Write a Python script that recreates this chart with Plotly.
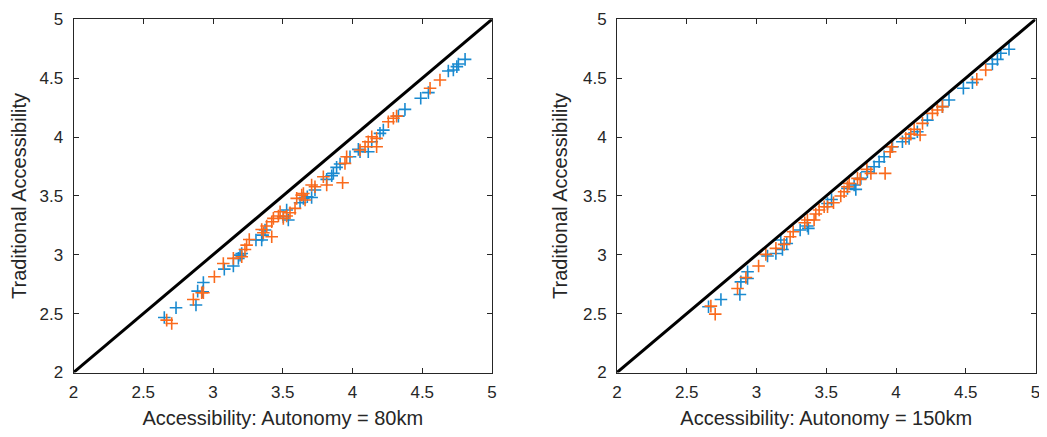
import plotly.graph_objects as go

# ---- data ----
# Panel 1: Autonomy = 80 km
p1_blue_x = [2.651, 2.735, 2.878, 2.890, 2.931, 2.926, 3.081, 3.146, 3.182, 3.194, 3.206,
             3.308, 3.349, 3.356, 3.373, 3.504, 3.528, 3.540, 3.624, 3.648, 3.676, 3.707,
             3.731, 3.815, 3.851, 3.863, 3.886, 3.911, 3.982, 4.042, 4.054, 4.113, 4.138,
             4.197, 4.221, 4.329, 4.376, 4.489, 4.544, 4.687, 4.723, 4.748, 4.759, 4.807]
p1_blue_y = [2.467, 2.550, 2.573, 2.691, 2.765, 2.686, 2.878, 2.904, 2.969, 2.997, 3.011,
             3.125, 3.125, 3.167, 3.210, 3.323, 3.380, 3.295, 3.442, 3.479, 3.493, 3.487,
             3.550, 3.640, 3.671, 3.691, 3.742, 3.771, 3.833, 3.895, 3.875, 3.875, 3.960,
             4.031, 4.059, 4.178, 4.235, 4.329, 4.377, 4.561, 4.569, 4.598, 4.620, 4.660]
p1_orange_x = [2.668, 2.704, 2.859, 2.919, 2.931, 3.010, 3.074, 3.146, 3.206, 3.229, 3.241,
               3.260, 3.349, 3.361, 3.385, 3.421, 3.421, 3.433, 3.469, 3.481, 3.504, 3.528,
               3.552, 3.588, 3.600, 3.636, 3.648, 3.660, 3.707, 3.731, 3.791, 3.815, 3.929,
               3.946, 3.958, 4.054, 4.090, 4.113, 4.138, 4.173, 4.173, 4.257, 4.293, 4.316,
               4.556, 4.627]
p1_orange_y = [2.445, 2.416, 2.620, 2.677, 2.677, 2.813, 2.926, 2.969, 2.983, 3.045, 3.082,
               3.130, 3.215, 3.187, 3.244, 3.280, 3.153, 3.309, 3.329, 3.365, 3.309, 3.329,
               3.357, 3.394, 3.479, 3.507, 3.521, 3.465, 3.592, 3.578, 3.663, 3.592, 3.612,
               3.776, 3.833, 3.890, 3.918, 3.960, 4.003, 3.989, 3.918, 4.130, 4.159, 4.178,
               4.414, 4.484]

# Panel 2: Autonomy = 150 km
p2_blue_x = [2.656, 2.745, 2.881, 2.888, 2.936, 2.936, 3.079, 3.139, 3.174, 3.186, 3.217,
             3.313, 3.365, 3.372, 3.509, 3.538, 3.652, 3.700, 3.712, 3.748, 3.795, 3.843,
             3.879, 3.915, 3.975, 4.046, 4.094, 4.153, 4.225, 4.333, 4.380, 4.483, 4.548,
             4.691, 4.727, 4.751, 4.810]
p2_blue_y = [2.558, 2.620, 2.663, 2.770, 2.856, 2.799, 2.989, 3.011, 3.125, 3.045, 3.096,
             3.210, 3.244, 3.224, 3.436, 3.470, 3.564, 3.592, 3.555, 3.649, 3.705, 3.748,
             3.790, 3.833, 3.918, 3.960, 3.989, 4.045, 4.144, 4.258, 4.314, 4.414, 4.462,
             4.620, 4.660, 4.711, 4.745]
p2_orange_x = [2.673, 2.704, 2.864, 2.924, 3.015, 3.067, 3.139, 3.198, 3.241, 3.263, 3.346,
               3.365, 3.413, 3.425, 3.449, 3.485, 3.509, 3.552, 3.604, 3.628, 3.652, 3.664,
               3.724, 3.743, 3.791, 3.820, 3.922, 3.958, 3.970, 4.070, 4.106, 4.130, 4.173,
               4.190, 4.261, 4.297, 4.333, 4.579, 4.643]
p2_orange_y = [2.564, 2.496, 2.714, 2.807, 2.904, 3.003, 3.054, 3.088, 3.153, 3.195, 3.272,
               3.295, 3.295, 3.346, 3.380, 3.408, 3.408, 3.442, 3.499, 3.535, 3.578, 3.606,
               3.649, 3.640, 3.725, 3.691, 3.691, 3.875, 3.918, 3.989, 4.025, 4.065, 4.017,
               4.116, 4.201, 4.229, 4.258, 4.490, 4.569]

axis_limits = [2, 5]
tick_vals = [2, 2.5, 3, 3.5, 4, 4.5, 5]
tick_text = ["2", "2.5", "3", "3.5", "4", "4.5", "5"]
x_titles = ["Accessibility: Autonomy = 80km", "Accessibility: Autonomy = 150km"]
y_title = "Traditional Accessibility"

BLUE = "#1A8AD0"
ORANGE = "#FA6A1C"
AXIS = "#262626"
FONT = "Liberation Sans, Arial, sans-serif"

fig = go.Figure()

panels = [
    (p1_blue_x, p1_blue_y, p1_orange_x, p1_orange_y, "x", "y"),
    (p2_blue_x, p2_blue_y, p2_orange_x, p2_orange_y, "x2", "y2"),
]

for bx, by, ox, oy, xa, ya in panels:
    fig.add_trace(go.Scatter(x=bx, y=by, mode="markers", xaxis=xa, yaxis=ya,
                             marker=dict(symbol="cross-thin", size=9,
                                         line=dict(color=BLUE, width=1.6)),
                             showlegend=False, hoverinfo="skip"))
    fig.add_trace(go.Scatter(x=ox, y=oy, mode="markers", xaxis=xa, yaxis=ya,
                             marker=dict(symbol="cross-thin", size=9,
                                         line=dict(color=ORANGE, width=1.6)),
                             showlegend=False, hoverinfo="skip"))
    fig.add_trace(go.Scatter(x=axis_limits, y=axis_limits, mode="lines", xaxis=xa, yaxis=ya,
                             line=dict(color="black", width=3),
                             showlegend=False, hoverinfo="skip", cliponaxis=False))

# The page body has an 8px margin; positions are shifted to compensate and the
# figure is sized so that the page does not overflow the window.
OFF = 8
W, H = 1047 - OFF, 437 - 2 * OFF
x_domains = [[(73.5 - OFF) / W, (492 - OFF) / W], [(617.0 - OFF) / W, (1035.5 - OFF) / W]]
y_domain = [(H - (372.5 - OFF)) / H, (H - (19.3 - OFF)) / H]

common = dict(range=axis_limits, tickvals=tick_vals, ticktext=tick_text, automargin=False,
              showgrid=False, zeroline=False, showline=True, linecolor=AXIS, linewidth=1,
              mirror="ticks", ticks="inside", ticklen=5, tickcolor=AXIS, tickwidth=1,
              ticklabeloverflow="allow",
              tickfont=dict(family=FONT, size=17, color=AXIS))

fig.update_layout(
    width=W, height=H,
    margin=dict(l=0, r=0, t=0, b=0),
    paper_bgcolor="white", plot_bgcolor="white",
    font=dict(family=FONT, color=AXIS),
    xaxis=dict(domain=x_domains[0], anchor="y", ticklabelstandoff=4,
               title=dict(text=x_titles[0], font=dict(family=FONT, size=20, color=AXIS), standoff=10),
               **common),
    yaxis=dict(domain=y_domain, anchor="x", ticklabelstandoff=6,
               title=dict(text=y_title, font=dict(family=FONT, size=20, color=AXIS), standoff=9),
               **common),
    xaxis2=dict(domain=x_domains[1], anchor="y2", ticklabelstandoff=4,
                title=dict(text=x_titles[1], font=dict(family=FONT, size=20, color=AXIS), standoff=10),
                **common),
    yaxis2=dict(domain=y_domain, anchor="x2", ticklabelstandoff=6,
                title=dict(text=y_title, font=dict(family=FONT, size=20, color=AXIS), standoff=9),
                **common),
)

fig.write_html("out.html")
